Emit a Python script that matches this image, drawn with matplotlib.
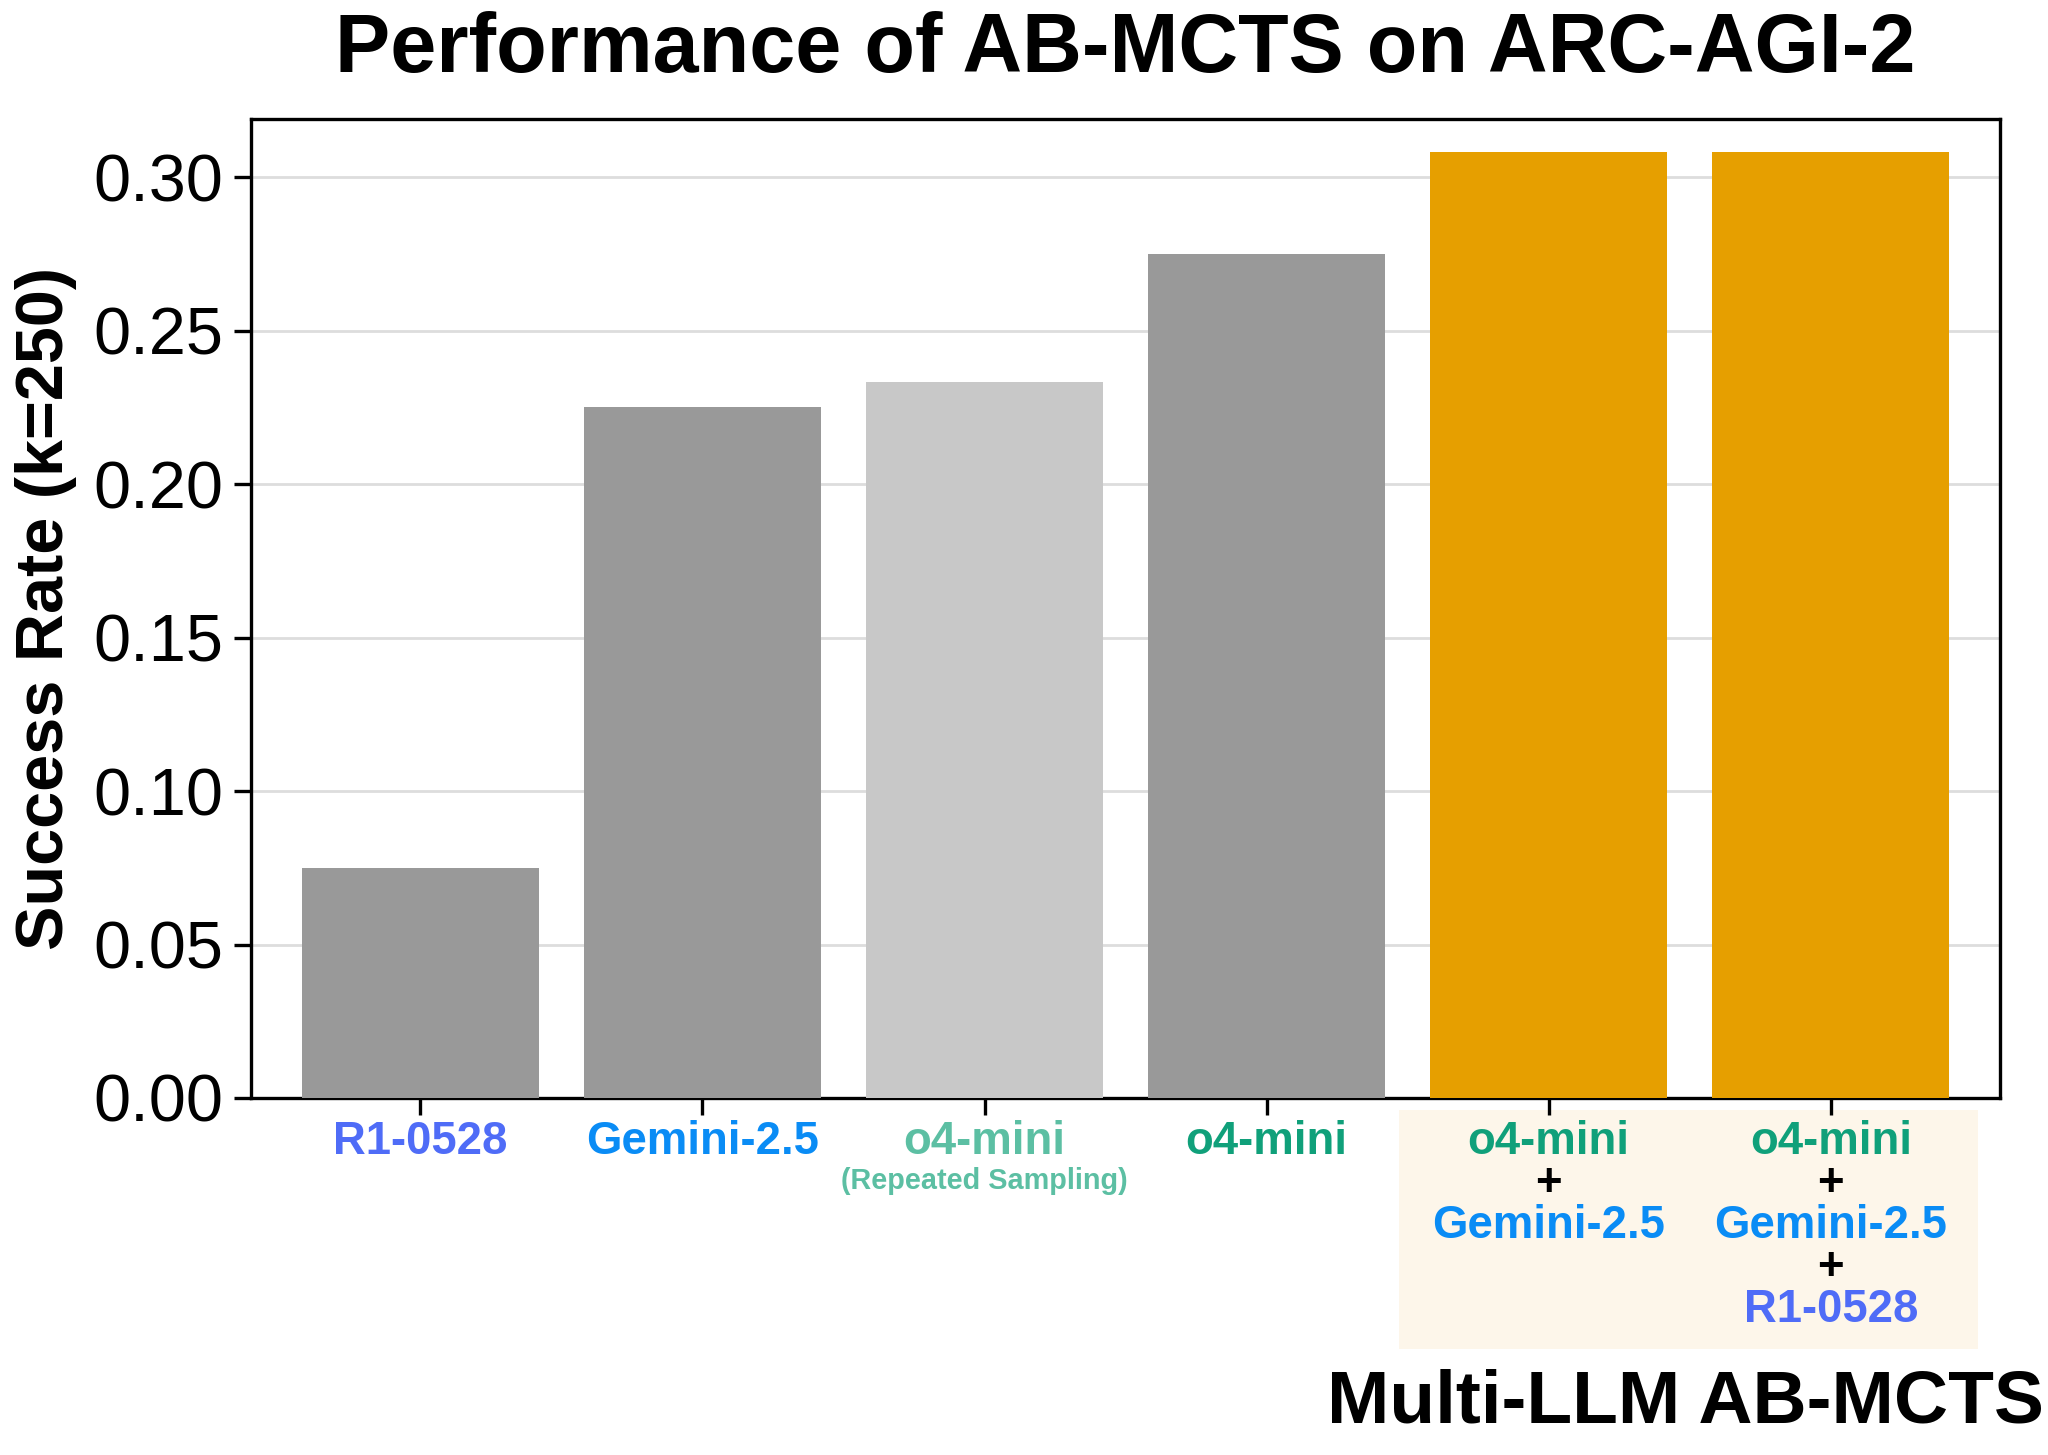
import matplotlib.pyplot as plt
from matplotlib.patches import Rectangle
from matplotlib.transforms import blended_transform_factory

plt.rcParams['font.family'] = ['Liberation Sans', 'DejaVu Sans']

# data
models = ["R1-0528", "Gemini-2.5", "o4-mini (RS)", "o4-mini",
          "o4-mini + Gemini-2.5", "o4-mini + Gemini-2.5 + R1-0528"]
success = [0.075, 0.225, 0.2333, 0.275, 0.3083, 0.3083]
bar_colors = ["#999999", "#999999", "#c8c8c8", "#999999", "#e69f00", "#e69f00"]

# colours of the model names
c_r1 = "#4f6cf7"
c_gem = "#0a8cf5"
c_o4 = "#10a07a"
c_o4rs = "#5cbfa3"

# each tick label is a stack of (text, colour)
tick_lines = [
    [("R1-0528", c_r1)],
    [("Gemini-2.5", c_gem)],
    [("o4-mini", c_o4rs)],
    [("o4-mini", c_o4)],
    [("o4-mini", c_o4), ("+", "black"), ("Gemini-2.5", c_gem)],
    [("o4-mini", c_o4), ("+", "black"), ("Gemini-2.5", c_gem),
     ("+", "black"), ("R1-0528", c_r1)],
]

fig = plt.figure(figsize=(10.24, 7.275), dpi=200)
ax = fig.add_axes([0.1226, 0.2454, 0.854, 0.6728])

x = list(range(len(models)))
ax.bar(x, success, width=0.84, color=bar_colors, zorder=3)

ax.set_xlim(-0.6, 5.6)
ax.set_ylim(0, 0.319)
ax.set_yticks([0, 0.05, 0.10, 0.15, 0.20, 0.25, 0.30])
ax.set_yticklabels(["0.00", "0.05", "0.10", "0.15", "0.20", "0.25", "0.30"])
ax.set_xticks(x)
ax.set_xticklabels([""] * len(x))
ax.tick_params(axis='y', labelsize=24, length=6, width=1.2, pad=4)
ax.tick_params(axis='x', length=6, width=1.2)
ax.grid(axis='y', color="#dddddd", linewidth=1, zorder=0)
for sp in ax.spines.values():
    sp.set_linewidth(1.2)
    sp.set_color("black")

ax.set_ylabel("Success Rate (k=250)", fontsize=24, fontweight="bold", labelpad=6)
ax.set_title("Performance of AB-MCTS on ARC-AGI-2", fontsize=29.8,
             fontweight="bold", pad=17)

trans = blended_transform_factory(ax.transData, ax.transAxes)

# shaded area behind the multi-LLM labels
ax.add_patch(Rectangle((3.47, -0.256), 2.05, 0.244, transform=trans,
                       facecolor="#fdf6ea", edgecolor="none",
                       clip_on=False, zorder=0))

for xi, lines in zip(x, tick_lines):
    for j, (txt, col) in enumerate(lines):
        ax.annotate(txt, xy=(xi, 0), xycoords=trans,
                    xytext=(0, -16 - 15.1 * j), textcoords="offset points",
                    ha="center", va="center", fontsize=16.4,
                    fontweight="bold", color=col)

ax.annotate("(Repeated Sampling)", xy=(2, 0), xycoords=trans,
            xytext=(0, -30), textcoords="offset points",
            ha="center", va="center", fontsize=10.4, fontweight="bold",
            color=c_o4rs)

fig.text(0.998, 0.036, "Multi-LLM AB-MCTS", ha="right", va="center",
         fontsize=27, fontweight="bold")

fig.savefig("out.png", dpi=200)
